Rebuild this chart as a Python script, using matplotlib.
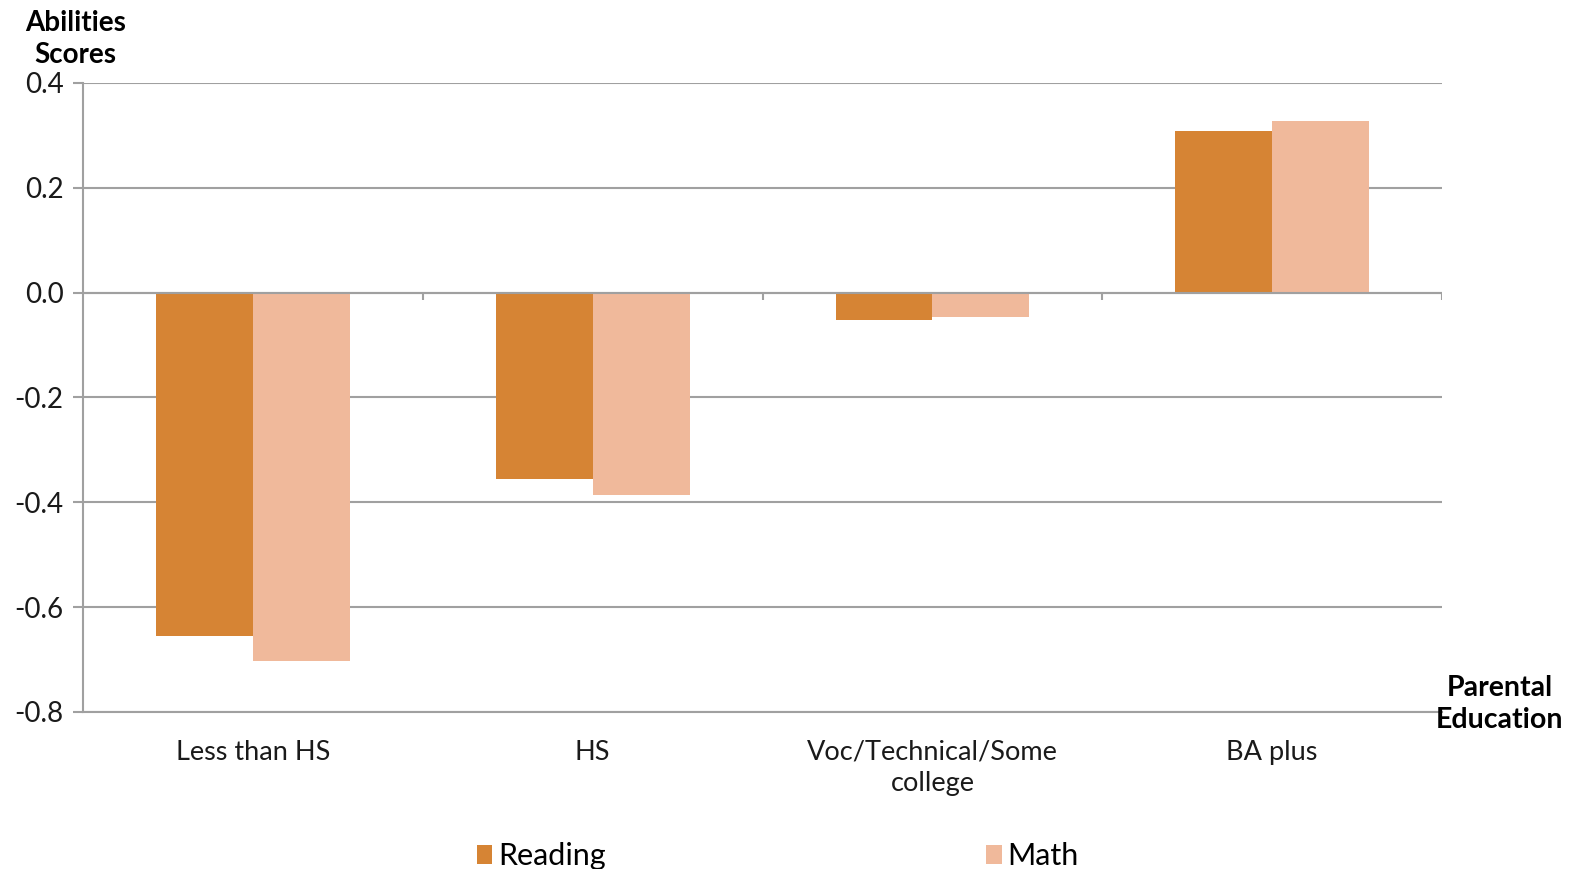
import matplotlib.pyplot as plt
import numpy as np

plt.rcParams['font.family'] = ['Lato', 'DejaVu Sans']

categories = ['Less than HS', 'HS', 'Voc/Technical/Some\ncollege', 'BA plus']
reading = [-0.655, -0.356, -0.052, 0.309]
math = [-0.702, -0.387, -0.046, 0.328]
yticks = [-0.8, -0.6, -0.4, -0.2, 0.0, 0.2, 0.4]

c_read = '#D68434'
c_math = '#F0B99B'
grey = '#A0A0A0'

fig = plt.figure(figsize=(15.7, 8.69), dpi=100)
ax = fig.add_axes([0.0529, 0.1807, 0.8656, 0.7238])

x = np.arange(len(categories))
w = 0.285
ax.bar(x - w/2, reading, w, color=c_read, label='Reading', zorder=3)
ax.bar(x + w/2, math, w, color=c_math, label='Math', zorder=3)

ax.set_xlim(-0.5, len(categories) - 0.5)
ax.set_ylim(-0.8, 0.4)
ax.set_yticks(yticks)
ax.set_yticklabels(['%.1f' % v for v in yticks])
ax.yaxis.grid(True, color=grey, linewidth=1.5, zorder=0)
ax.set_xticks(x)
ax.set_xticklabels(categories, linespacing=1.3)
ax.tick_params(axis='x', length=0, pad=20, labelsize=19.5, colors='#1a1a1a')
ax.tick_params(axis='y', length=7, width=1.5, color=grey, labelsize=20, pad=7, labelcolor='#1a1a1a')

for s in ['top', 'right']:
    ax.spines[s].set_visible(False)
for s in ['left', 'bottom']:
    ax.spines[s].set_color(grey)
    ax.spines[s].set_linewidth(1.5)

# category axis crossing at zero with boundary ticks
ax.axhline(0, color=grey, linewidth=1.5, zorder=4)
bounds = np.arange(len(categories)) + 0.5
ax.vlines(bounds, -0.014, 0, color=grey, linewidth=1.5, zorder=4)

fig.text(0.048, 0.955, 'Abilities\nScores', ha='center', va='center',
         fontsize=20, fontweight='bold', linespacing=1.3)
fig.text(0.955, 0.190, 'Parental\nEducation', ha='center', va='center',
         fontsize=20.5, fontweight='bold', linespacing=1.3)

fig.legend(loc='lower center', bbox_to_anchor=(0.4955, -0.033), ncol=2,
           frameon=False, fontsize=22, handlelength=0.5, handleheight=0.6,
           handletextpad=0.2, columnspacing=12.45)

fig.savefig('out.png', dpi=100)
